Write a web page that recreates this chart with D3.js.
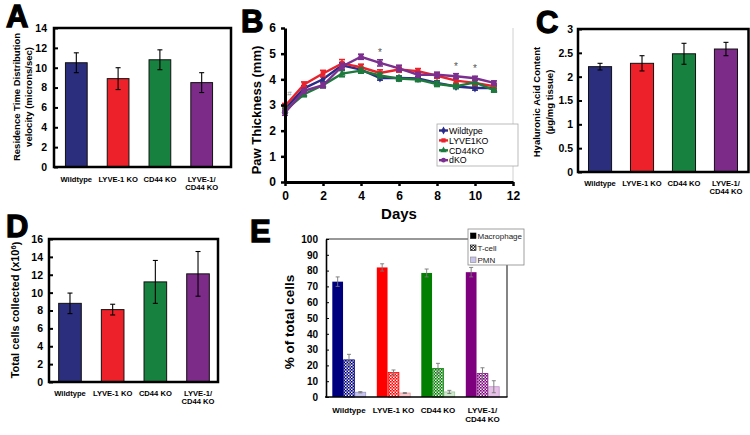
<!DOCTYPE html>
<html><head><meta charset="utf-8">
<script src="https://cdn.jsdelivr.net/npm/d3@7"></script>
<style>body{margin:0;background:#fff}svg{display:block;font-family:"Liberation Sans",Arial,sans-serif}</style>
</head><body><svg id="c" width="750" height="435"></svg>
<script>
// ---------- DATA ----------
const groups = ["Wildtype", "LYVE-1 KO", "CD44 KO", "LYVE-1/ CD44 KO"];
const groupLines = [["Wildtype"], ["LYVE-1 KO"], ["CD44 KO"], ["LYVE-1/", "CD44 KO"]];
// Panel A
const velocity = [10.5, 8.9, 10.8, 8.5];
const velocityErr = [1.0, 1.1, 1.0, 1.0];
const ticksA = [0, 2, 4, 6, 8, 10, 12, 14];
// Panel C
const hyaluronic = [2.21, 2.28, 2.48, 2.58];
const hyaluronicErr = [0.07, 0.16, 0.22, 0.14];
const ticksC = [0, 0.5, 1, 1.5, 2, 2.5, 3];
const tickLabelsC = ["0", "0.5", "1", "1.5", "2", "2.5", "3"];
// Panel D
const totalCells = [8.8, 8.1, 11.2, 12.1];
const totalCellsErr = [1.15, 0.6, 2.4, 2.5];
const ticksD = [0, 2, 4, 6, 8, 10, 12, 14, 16];
// Panel B
const days = [0, 1, 2, 3, 4, 5, 6, 7, 8, 9, 10, 11];
const seriesNames = ["Wildtype", "LYVE1KO", "CD44KO", "dKO"];
const pawWildtype = [2.85, 3.65, 4.0, 4.55, 4.38, 4.05, 4.05, 4.03, 3.86, 3.72, 3.66, 3.66];
const pawLYVE1KO  = [2.96, 3.8, 4.23, 4.62, 4.47, 4.25, 4.38, 4.32, 4.14, 3.95, 3.86, 3.73];
const pawCD44KO   = [2.78, 3.42, 3.77, 4.22, 4.34, 4.15, 4.03, 3.99, 3.82, 3.73, 3.88, 3.58];
const pawdKO      = [2.7, 3.55, 3.77, 4.5, 4.88, 4.64, 4.43, 4.18, 4.18, 4.12, 4.04, 3.86];
const pawErrWildtype = [0.1, 0.1, 0.1, 0.1, 0.08, 0.08, 0.08, 0.08, 0.08, 0.08, 0.08, 0.08];
const pawErrLYVE1KO  = [0.1, 0.1, 0.12, 0.15, 0.12, 0.12, 0.1, 0.1, 0.1, 0.1, 0.1, 0.1];
const pawErrCD44KO   = [0.1, 0.1, 0.1, 0.12, 0.1, 0.1, 0.1, 0.08, 0.1, 0.08, 0.08, 0.08];
const pawErrdKO      = [0.1, 0.1, 0.1, 0.12, 0.1, 0.12, 0.12, 0.1, 0.1, 0.1, 0.08, 0.08];
const ticksBx = [0, 2, 4, 6, 8, 10, 12];
const ticksBy = [0, 1, 2, 3, 4, 5, 6];
const starDays = [5, 9, 10];
const starLevels = [5.1, 4.55, 4.48];
// Panel E
const cellTypes = ["Macrophage", "T-cell", "PMN"];
const macrophage = [73, 82, 78.5, 79];
const macrophageErr = [3, 2.3, 2.5, 3];
const tcell = [23.5, 15.5, 18, 14.8];
const tcellErr = [3.5, 1.6, 3.3, 3.7];
const pmn = [3, 2.5, 3.2, 6.5];
const pmnErr = [0.4, 0.3, 1.0, 3.8];
const ticksE = [0, 10, 20, 30, 40, 50, 60, 70, 80, 90, 100];

// ---------- STYLE ----------
const colA = ["#2b2e7c", "#ec2129", "#17813f", "#7c2b88"];
const colB = ["#2a2c88", "#e8232b", "#1d7a3c", "#7b2f8e"];
const colE = ["#00007f", "#ff0000", "#007f00", "#7f007f"];
const colPMN = ["#c6c4ec", "#fcc8cc", "#cfe9cd", "#e6bfe6"];
const colPMNStroke = ["#9a98c8", "#e09a9a", "#9cc89a", "#c090c8"];

const svg = d3.select("#c");
const defs = svg.append("defs");

function panelLetter(t, x, y) {
  svg.append("text").attr("x", x).attr("y", y).text(t)
    .attr("font-size", 31).attr("font-weight", "bold").attr("fill", "#000")
    .attr("stroke", "#000").attr("stroke-width", 1.3);
}

function yTitle(lines, cx, cy, size, gap) {
  const n = lines.length;
  lines.forEach((l, i) => {
    const x = cx + (i - (n - 1) / 2) * gap;
    svg.append("text").attr("transform", `translate(${x},${cy}) rotate(-90)`)
      .attr("text-anchor", "middle").attr("dy", "0.35em")
      .attr("font-size", size).attr("font-weight", "bold").text(l);
  });
}

function catLabels(xs, y, size, lh) {
  groupLines.forEach((lines, i) => {
    lines.forEach((l, j) => {
      svg.append("text").attr("x", xs[i]).attr("y", y + j * lh)
        .attr("text-anchor", "middle").attr("font-size", size).attr("font-weight", "bold").text(l);
    });
  });
}

function barPanel(o) {
  const y = d3.scaleLinear().domain([0, o.max]).range([o.bottom, o.top]);
  const x = d3.scaleBand().domain(groups).range(o.bandRange).paddingInner(o.pi).paddingOuter(o.po);
  const g = svg.append("g");
  g.selectAll("rect.bar").data(o.values).join("rect").attr("class", "bar")
    .attr("x", (d, i) => x(groups[i])).attr("width", x.bandwidth())
    .attr("y", d => y(d)).attr("height", d => o.bottom - y(d))
    .attr("fill", (d, i) => colA[i]).attr("stroke", "#111").attr("stroke-width", 1);
  o.values.forEach((v, i) => {
    const cx = x(groups[i]) + x.bandwidth() / 2, e = o.errs[i];
    g.append("line").attr("x1", cx).attr("x2", cx).attr("y1", y(v - e)).attr("y2", y(v + e))
      .attr("stroke", "#000").attr("stroke-width", 1.1);
    [v - e, v + e].forEach(t => g.append("line").attr("x1", cx - 2.5).attr("x2", cx + 2.5)
      .attr("y1", y(t)).attr("y2", y(t)).attr("stroke", "#000").attr("stroke-width", 1.1));
  });
  const ax = d3.axisLeft(y).tickValues(o.ticks).tickSizeInner(-4).tickSizeOuter(0).tickPadding(o.pad)
    .tickFormat((d, i) => o.tickLabels ? o.tickLabels[i] : d);
  const a = g.append("g").attr("transform", `translate(${o.left},0)`).call(ax);
  a.select(".domain").remove();
  a.selectAll(".tick line").attr("stroke", "#000").attr("stroke-width", 2);
  a.selectAll(".tick text").attr("font-size", o.tickSize).attr("font-weight", "bold")
    .attr("fill", "#000").attr("font-family", "Liberation Sans, Arial, sans-serif");
  g.append("rect").attr("x", o.left).attr("y", o.top).attr("width", o.right - o.left)
    .attr("height", o.bottom - o.top).attr("fill", "none").attr("stroke", "#000").attr("stroke-width", 2.5);
  catLabels(groups.map(d => x(d) + x.bandwidth() / 2), o.labelY, 7.6, 8);
}

// ---------- PANEL A ----------
barPanel({ values: velocity, errs: velocityErr, max: 14, ticks: ticksA, top: 28, bottom: 167,
  left: 54, right: 231, bandRange: [55, 223], pi: 0.48, po: 0.25, pad: 7, tickSize: 10.5, labelY: 181.5 });
yTitle(["Residence Time Distribution", "velocity (microns/sec)"], 23, 97, 9.5, 12);
panelLetter("A", 6, 27);

// ---------- PANEL C ----------
barPanel({ values: hyaluronic, errs: hyaluronicErr, max: 3, ticks: ticksC, tickLabels: tickLabelsC, top: 29, bottom: 172,
  left: 578, right: 748.5, bandRange: [578, 748], pi: 0.45, po: 0.25, pad: 5, tickSize: 10.5, labelY: 185.5 });
yTitle(["Hyaluronic Acid Content", "(\u00b5g/mg tissue)"], 543.5, 102, 9.5, 13);
panelLetter("C", 536, 33);

// ---------- PANEL D ----------
barPanel({ values: totalCells, errs: totalCellsErr, max: 16, ticks: ticksD, top: 239, bottom: 382,
  left: 49, right: 218, bandRange: [48, 220], pi: 0.47, po: 0.25, pad: 6, tickSize: 10.5, labelY: 396 });
{
  const t = svg.append("text").attr("transform", "translate(15,310) rotate(-90)")
    .attr("text-anchor", "middle").attr("dy", "0.35em").attr("font-size", 11).attr("font-weight", "bold");
  t.append("tspan").text("Total cells collected (x10");
  t.append("tspan").text("6").attr("font-size", 7.5).attr("dy", "-0.4em");
  t.append("tspan").text(")").attr("dy", "0.4em");
}
panelLetter("D", 6, 237);

// ---------- PANEL B ----------
{
  const xB = d3.scaleLinear().domain([0, 12]).range([285, 513]);
  const yB = d3.scaleLinear().domain([0, 6]).range([182, 28]);
  const g = svg.append("g");
  g.append("line").attr("x1", 513).attr("x2", 513).attr("y1", 28).attr("y2", 182).attr("stroke", "#d0d0d0").attr("stroke-width", 1);
  const seriesVals = [pawWildtype, pawLYVE1KO, pawCD44KO, pawdKO];
  const seriesErrs = [pawErrWildtype, pawErrLYVE1KO, pawErrCD44KO, pawErrdKO];
  const syms = [d3.symbolDiamond, d3.symbolSquare, d3.symbolTriangle, d3.symbolCircle];
  const line = d3.line().x((d, i) => xB(days[i])).y(d => yB(d));
  seriesVals.forEach((vals, s) => {
    const c = colB[s];
    g.append("path").datum(vals).attr("d", line).attr("fill", "none").attr("stroke", c).attr("stroke-width", 2.4);
    vals.forEach((v, i) => {
      const cx = xB(days[i]), e = seriesErrs[s][i];
      g.append("line").attr("x1", cx).attr("x2", cx).attr("y1", yB(v - e)).attr("y2", yB(v + e)).attr("stroke", c).attr("stroke-width", 1.6);
      [v - e, v + e].forEach(t => g.append("line").attr("x1", cx - 3).attr("x2", cx + 3).attr("y1", yB(t)).attr("y2", yB(t)).attr("stroke", c).attr("stroke-width", 1.6));
      g.append("path").attr("d", d3.symbol().type(syms[s]).size(22)()).attr("transform", `translate(${cx},${yB(v)})`).attr("fill", c);
    });
  });
  starDays.forEach((d, i) => g.append("text").attr("x", xB(d)).attr("y", yB(starLevels[i]) + 5)
    .attr("text-anchor", "middle").attr("font-size", 10).attr("fill", "#555").text("*"));
  g.append("text").attr("x", xB(0) + 4.5).attr("y", yB(3.45) + 3).attr("text-anchor", "middle")
    .attr("font-size", 8).attr("fill", "#999").text("#");
  const ay = g.append("g").attr("transform", "translate(285,0)")
    .call(d3.axisLeft(yB).tickValues(ticksBy).tickFormat(d3.format("d")).tickSizeInner(4).tickSizeOuter(0).tickPadding(5));
  const ax = g.append("g").attr("transform", "translate(0,182)")
    .call(d3.axisBottom(xB).tickValues(ticksBx).tickFormat(d3.format("d")).tickSizeInner(4).tickSizeOuter(0).tickPadding(5));
  [ay, ax].forEach(a => {
    a.select(".domain").attr("stroke", "#000").attr("stroke-width", 3);
    a.selectAll(".tick line").attr("stroke", "#000").attr("stroke-width", 2.5);
    a.selectAll(".tick text").attr("font-size", 12).attr("font-weight", "bold").attr("fill", "#000")
      .attr("font-family", "Liberation Sans, Arial, sans-serif");
  });
  g.append("text").attr("x", 399).attr("y", 219).attr("text-anchor", "middle")
    .attr("font-size", 15).attr("font-weight", "bold").text("Days");
  yTitle(["Paw Thickness (mm)"], 256, 110, 13, 0);
  const lg = g.append("g");
  lg.append("rect").attr("x", 437).attr("y", 124).attr("width", 81).attr("height", 42)
    .attr("fill", "#fff").attr("stroke", "#aaa").attr("stroke-width", 0.8);
  seriesNames.forEach((n, i) => {
    const yy = 130.5 + i * 9.9;
    lg.append("line").attr("x1", 439).attr("x2", 448).attr("y1", yy).attr("y2", yy).attr("stroke", colB[i]).attr("stroke-width", 2.4);
    lg.append("path").attr("d", d3.symbol().type(syms[i]).size(18)()).attr("transform", `translate(443.5,${yy})`).attr("fill", colB[i]);
    lg.append("text").attr("x", 449).attr("y", yy + 3.2).attr("font-size", 8.8).text(n);
  });
  panelLetter("B", 241, 32);
}

// ---------- PANEL E ----------
{
  const yE = d3.scaleLinear().domain([0, 100]).range([397, 239]);
  const xE = d3.scaleBand().domain(groups).range([326, 505.5]).paddingInner(0.236).paddingOuter(0.135);
  const xs = d3.scaleBand().domain(cellTypes).range([0, xE.bandwidth()]);
  colE.forEach((c, i) => {
    const p = defs.append("pattern").attr("id", "chk" + i).attr("patternUnits", "userSpaceOnUse")
      .attr("width", 3).attr("height", 3);
    p.append("rect").attr("width", 3).attr("height", 3).attr("fill", "#fff");
    p.append("rect").attr("width", 1.6).attr("height", 1.6).attr("fill", c);
    p.append("rect").attr("x", 1.5).attr("y", 1.5).attr("width", 1.6).attr("height", 1.6).attr("fill", c);
    p.append("rect").attr("x", 1.5).attr("y", 0).attr("width", 1.5).attr("height", 1.5).attr("fill", c).attr("opacity", 0.35);
  });
  {
    const p = defs.append("pattern").attr("id", "chkL").attr("patternUnits", "userSpaceOnUse").attr("width", 3).attr("height", 3);
    p.append("rect").attr("width", 3).attr("height", 3).attr("fill", "#fff");
    p.append("rect").attr("width", 1.6).attr("height", 1.6).attr("fill", "#222");
    p.append("rect").attr("x", 1.5).attr("y", 1.5).attr("width", 1.6).attr("height", 1.6).attr("fill", "#222");
  }
  const g = svg.append("g");
  const vals = [macrophage, tcell, pmn], errs = [macrophageErr, tcellErr, pmnErr];
  groups.forEach((grp, i) => {
    cellTypes.forEach((ct, k) => {
      const v = vals[k][i], e = errs[k][i];
      const x0 = xE(grp) + xs(ct), w = xs.bandwidth();
      const fill = k === 0 ? colE[i] : k === 1 ? `url(#chk${i})` : colPMN[i];
      const stroke = k === 0 ? colE[i] : k === 1 ? colE[i] : colPMNStroke[i];
      g.append("rect").attr("x", x0 + 0.3).attr("width", w - 0.6).attr("y", yE(v)).attr("height", 397 - yE(v))
        .attr("fill", fill).attr("stroke", stroke).attr("stroke-width", k === 0 ? 0 : 0.8);
      const cx = x0 + w / 2;
      g.append("line").attr("x1", cx).attr("x2", cx).attr("y1", yE(v - e)).attr("y2", yE(v + e)).attr("stroke", "#777").attr("stroke-width", 0.9);
      [v - e, v + e].forEach(t => g.append("line").attr("x1", cx - 2).attr("x2", cx + 2).attr("y1", yE(t)).attr("y2", yE(t)).attr("stroke", "#777").attr("stroke-width", 0.9));
    });
  });
  g.append("line").attr("x1", 326).attr("x2", 507).attr("y1", 239).attr("y2", 239).attr("stroke", "#333").attr("stroke-width", 1.2);
  g.append("line").attr("x1", 507).attr("x2", 507).attr("y1", 239).attr("y2", 397).attr("stroke", "#333").attr("stroke-width", 1.2);
  const ay = g.append("g").attr("transform", "translate(326,0)")
    .call(d3.axisLeft(yE).tickValues(ticksE).tickSizeInner(-3).tickSizeOuter(0).tickPadding(8));
  ay.select(".domain").attr("stroke", "#000").attr("stroke-width", 1.6);
  ay.selectAll(".tick line").attr("stroke", "#000").attr("stroke-width", 1);
  ay.selectAll(".tick text").attr("font-size", 10).attr("font-weight", "bold").attr("fill", "#000")
    .attr("font-family", "Liberation Sans, Arial, sans-serif");
  g.append("line").attr("x1", 325).attr("x2", 507.5).attr("y1", 397).attr("y2", 397).attr("stroke", "#000").attr("stroke-width", 1.6);
  catLabels(groups.map(d => xE(d) + xE.bandwidth() / 2), 413, 8, 9);
  yTitle(["% of total cells"], 289, 322, 13.5, 0);
  const lg = g.append("g");
  lg.append("rect").attr("x", 468).attr("y", 229).attr("width", 56).attr("height", 36)
    .attr("fill", "#fff").attr("stroke", "#888").attr("stroke-width", 0.8);
  const legFill = ["#000", "url(#chkL)", "#c6c4ec"];
  cellTypes.forEach((ct, k) => {
    const yy = 236 + k * 12;
    lg.append("rect").attr("x", 470.5).attr("y", yy - 3).attr("width", 5.5).attr("height", 5.5)
      .attr("fill", legFill[k]).attr("stroke", k === 2 ? "#888" : "#000").attr("stroke-width", 0.6);
    lg.append("text").attr("x", 477.5).attr("y", yy + 3).attr("font-size", 8).attr("fill", "#222").text(ct);
  });
  panelLetter("E", 250, 242);
}
</script></body></html>
